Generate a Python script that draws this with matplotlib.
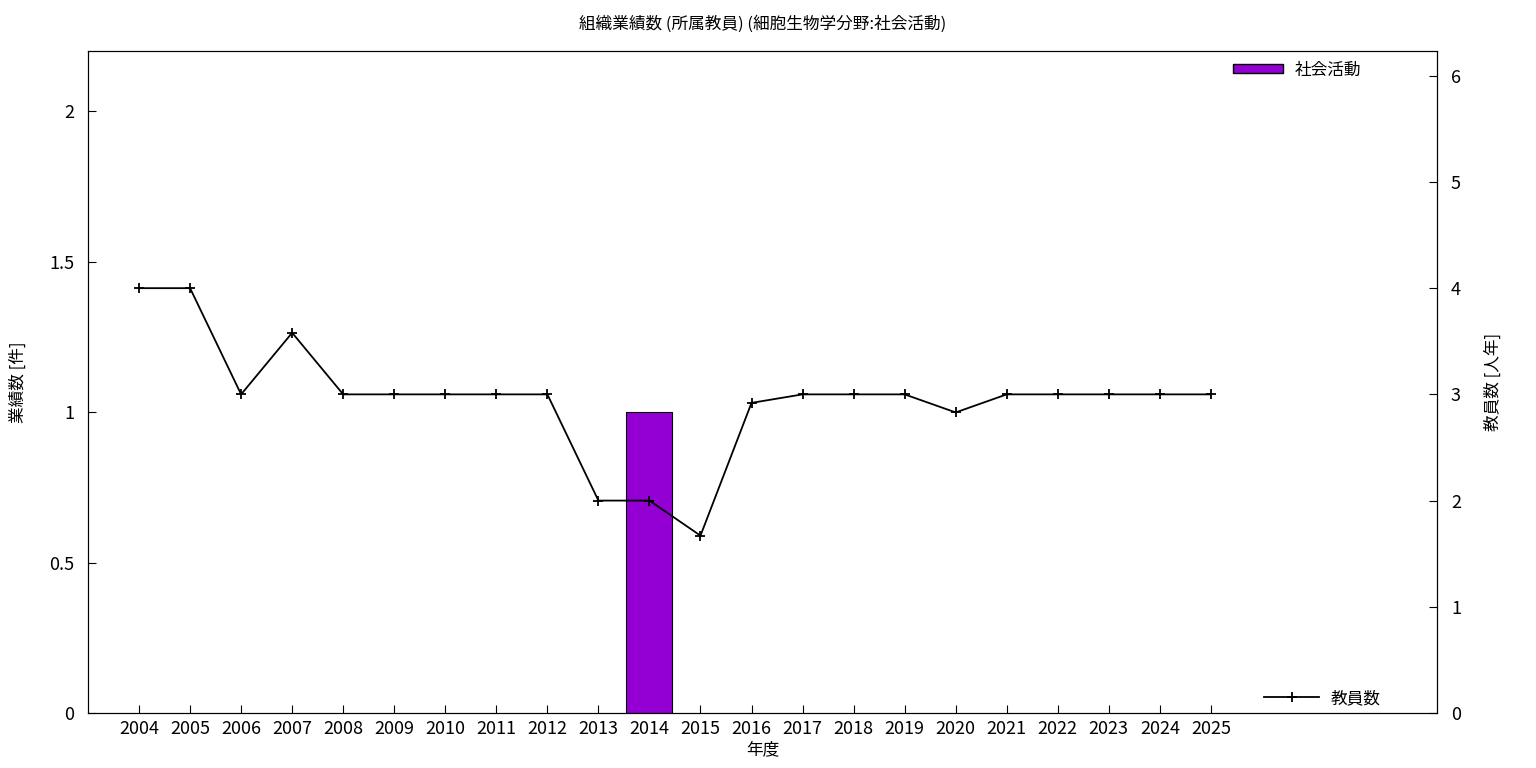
import matplotlib
matplotlib.use("Agg")
import matplotlib.pyplot as plt
from matplotlib.patches import Patch
from matplotlib.lines import Line2D

plt.rcParams['font.family'] = ['Noto Sans CJK JP', 'DejaVu Sans']

years = list(range(2004, 2026))
bar_years = [2014]
bar_values = [1]
staff = [4, 4, 3, 3.58, 3, 3, 3, 3, 3, 2, 2, 1.67, 2.92, 3, 3, 3, 2.83, 3, 3, 3, 3, 3]

title = "組織業績数 (所属教員) (細胞生物学分野:社会活動)"
bar_label = "社会活動"
line_label = "教員数"

fig = plt.figure(figsize=(15.36, 7.68), dpi=100)
ax = fig.add_axes([88/1536, 55/768, (1437-88)/1536, (713-51)/768])
ax2 = ax.twinx()

ax.bar(bar_years, bar_values, width=0.9, color='#9400d3', edgecolor='black', linewidth=0.8, zorder=2)
ax2.plot(years, staff, color='black', linewidth=1.3, marker='+', markersize=7, markeredgewidth=1.3, zorder=3)

ax.set_xlim(2003, 2029.43)
ax.set_ylim(0, 2.2)
ax2.set_ylim(0, 6.233)
ax.set_xticks(years)
ax.set_xticklabels([str(y) for y in years])
ax.set_yticks([0, 0.5, 1, 1.5, 2])
ax.set_yticklabels(['0', '0.5', '1', '1.5', '2'])
ax2.set_yticks([0, 1, 2, 3, 4, 5, 6])

for a in (ax, ax2):
    a.tick_params(direction='in', length=6, labelsize=13, width=0.8)
ax.tick_params(axis='y', pad=10)
ax2.tick_params(axis='y', pad=10)
ax.tick_params(axis='x', pad=5)

ax.set_xlabel("年度", fontsize=12, labelpad=2)
ax.set_ylabel("業績数 [件]", fontsize=12, labelpad=16)
ax2.set_ylabel("教員数 [人年]", fontsize=12, labelpad=17)
ax.set_title(title, fontsize=12, pad=16)

ax2.set_zorder(ax.get_zorder() + 1)
ax2.patch.set_visible(False)

leg1 = ax2.legend([Patch(facecolor='#9400d3', edgecolor='black')], [bar_label],
                  loc='upper right', bbox_to_anchor=(0.955, 1.007), frameon=False, fontsize=12,
                  handlelength=3.0, handleheight=0.45, handletextpad=0.7)
ax2.add_artist(leg1)
ax2.legend([Line2D([], [], color='black', linewidth=1.3, marker='+', markersize=7, markeredgewidth=1.3)], [line_label],
           loc='lower right', bbox_to_anchor=(0.969, -0.014), frameon=False, fontsize=12,
           handlelength=3.25, handletextpad=0.7)

fig.savefig("out.png", dpi=100)
